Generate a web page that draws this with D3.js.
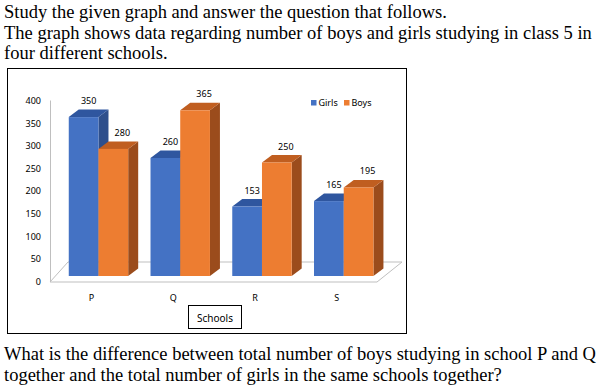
<!DOCTYPE html>
<html>
<head>
<meta charset="utf-8" />
<title>Boys and girls in class 5</title>
<style>
  body { margin: 0; background: #fff; }
  .q { font-family: "Liberation Serif", "Times New Roman", serif; font-size: 18.5px; fill: #000; }
  .c { font-family: "Noto Sans", "Open Sans", sans-serif; font-size: 9px; fill: #000; }
</style>
</head>
<body>
<svg id="chart" width="613" height="389"></svg>
<script src="https://d3js.org/d3.v7.min.js"></script>
<script>
// data
var schools = ["P", "Q", "R", "S"];
var girls = [350, 260, 153, 165];
var boys = [280, 365, 250, 195];
var yTicks = [0, 50, 100, 150, 200, 250, 300, 350, 400];
var seriesNames = ["Girls", "Boys"];
var introLines = [
  "Study the given graph and answer the question that follows.",
  "The graph shows data regarding number of boys and girls studying in class 5 in",
  "four different schools."
];
var questionLines = [
  "What is the difference between total number of boys studying in school P and Q",
  "together and the total number of girls in the same schools together?"
];

var svg = d3.select("#chart");

// ---- question text ----
svg.selectAll(".intro").data(introLines).enter().append("text")
  .attr("class", "q intro")
  .attr("x", 4)
  .attr("y", function(d, i) { return 18 + i * 20.5; })
  .text(function(d) { return d; });

svg.selectAll(".quest").data(questionLines).enter().append("text")
  .attr("class", "q quest")
  .attr("x", 4)
  .attr("y", function(d, i) { return 360 + i * 21; })
  .text(function(d) { return d; });

// ---- chart frame ----
svg.append("rect")
  .attr("x", 7.5).attr("y", 68.5)
  .attr("width", 399).attr("height", 265)
  .attr("fill", "#fff").attr("stroke", "#000");

// 3d look
var depthX = 10, depthY = -7.5;

var x = d3.scaleBand().domain(schools).range([57.6, 384.6])
  .paddingInner(0.273).paddingOuter(0.1365);
var xs = d3.scaleBand().domain(seriesNames).range([0, x.bandwidth()]);
var y = d3.scaleLinear().domain([0, 400]).range([276, 94.4]);
var yLab = d3.scaleLinear().domain([0, 400]).range([281.5, 100.5]);

var front = { Girls: "#4472C4", Boys: "#ED7D31" };
var top_ = { Girls: "#2F569F", Boys: "#C05E20" };
var side = { Girls: "#2E4F8C", Boys: "#9B4C1C" };

// floor and left edge
var g = svg.append("g");
g.append("line")
  .attr("x1", 50.5).attr("x2", 50.5)
  .attr("y1", yLab(400)).attr("y2", 282)
  .attr("stroke", "#bfbfbf");
g.append("path")
  .attr("d", "M50,282 L68,262 L402,262 L377,282 Z")
  .attr("fill", "none").attr("stroke", "#bfbfbf");

// y axis labels
var yAxis = d3.axisLeft(yLab).tickValues(yTicks).tickSize(0).tickPadding(0);
svg.append("g")
  .attr("transform", "translate(41,0)")
  .call(yAxis)
  .call(function(a) { a.select(".domain").remove(); })
  .selectAll("text")
  .attr("class", "c")
  .style("font-family", "'Noto Sans', sans-serif")
  .style("font-size", "9px")
  .attr("fill", "#000");

// category labels
svg.selectAll(".cat").data(schools).enter().append("text")
  .attr("class", "c cat")
  .attr("text-anchor", "middle")
  .attr("x", function(d) { return x(d) + x.bandwidth() / 2 - 7; })
  .attr("y", 301)
  .text(function(d) { return d; });

// bars
var rows = [];
schools.forEach(function(s, i) {
  rows.push({ school: s, series: "Girls", value: girls[i] });
  rows.push({ school: s, series: "Boys", value: boys[i] });
});

var bars = svg.append("g").selectAll("g").data(rows).enter().append("g");
bars.each(function(d) {
  var b = d3.select(this);
  var x0 = x(d.school) + xs(d.series), w = xs.bandwidth();
  var yt = y(d.value), yb = y(0);
  b.append("path")
    .attr("d", "M" + (x0 + w) + "," + yt + " L" + (x0 + w + depthX) + "," + (yt + depthY) +
      " L" + (x0 + w + depthX) + "," + (yb + depthY) + " L" + (x0 + w) + "," + yb + " Z")
    .attr("fill", side[d.series]);
  b.append("path")
    .attr("d", "M" + x0 + "," + yt + " L" + (x0 + depthX) + "," + (yt + depthY) +
      " L" + (x0 + w + depthX) + "," + (yt + depthY) + " L" + (x0 + w) + "," + yt + " Z")
    .attr("fill", top_[d.series]);
  b.append("rect")
    .attr("x", x0).attr("y", yt)
    .attr("width", w).attr("height", yb - yt)
    .attr("fill", front[d.series]);
});

// value labels
var labOff = { Girls: 5, Boys: 9 };
svg.selectAll(".val").data(rows).enter().append("text")
  .attr("class", "c val")
  .attr("text-anchor", "middle")
  .attr("x", function(d) { return x(d.school) + xs(d.series) + xs.bandwidth() / 2 + labOff[d.series]; })
  .attr("y", function(d) { return y(d.value) - 13; })
  .text(function(d) { return d.value; });

// legend
var leg = svg.append("g").selectAll("g").data(seriesNames).enter().append("g")
  .attr("transform", function(d, i) { return "translate(" + (311 + i * 33) + ",100)"; });
leg.append("rect").attr("width", 5.5).attr("height", 5.5)
  .attr("fill", function(d) { return front[d]; });
leg.append("text").attr("class", "c").attr("x", 7.5).attr("y", 6)
  .text(function(d) { return d; });

// axis title box
svg.append("rect")
  .attr("x", 188.5).attr("y", 305.5).attr("width", 53).attr("height", 23)
  .attr("fill", "#fff").attr("stroke", "#000");
svg.append("text").attr("class", "c")
  .attr("x", 215).attr("y", 322).attr("text-anchor", "middle")
  .style("font-size", "10px")
  .text("Schools");
</script>
</body>
</html>
